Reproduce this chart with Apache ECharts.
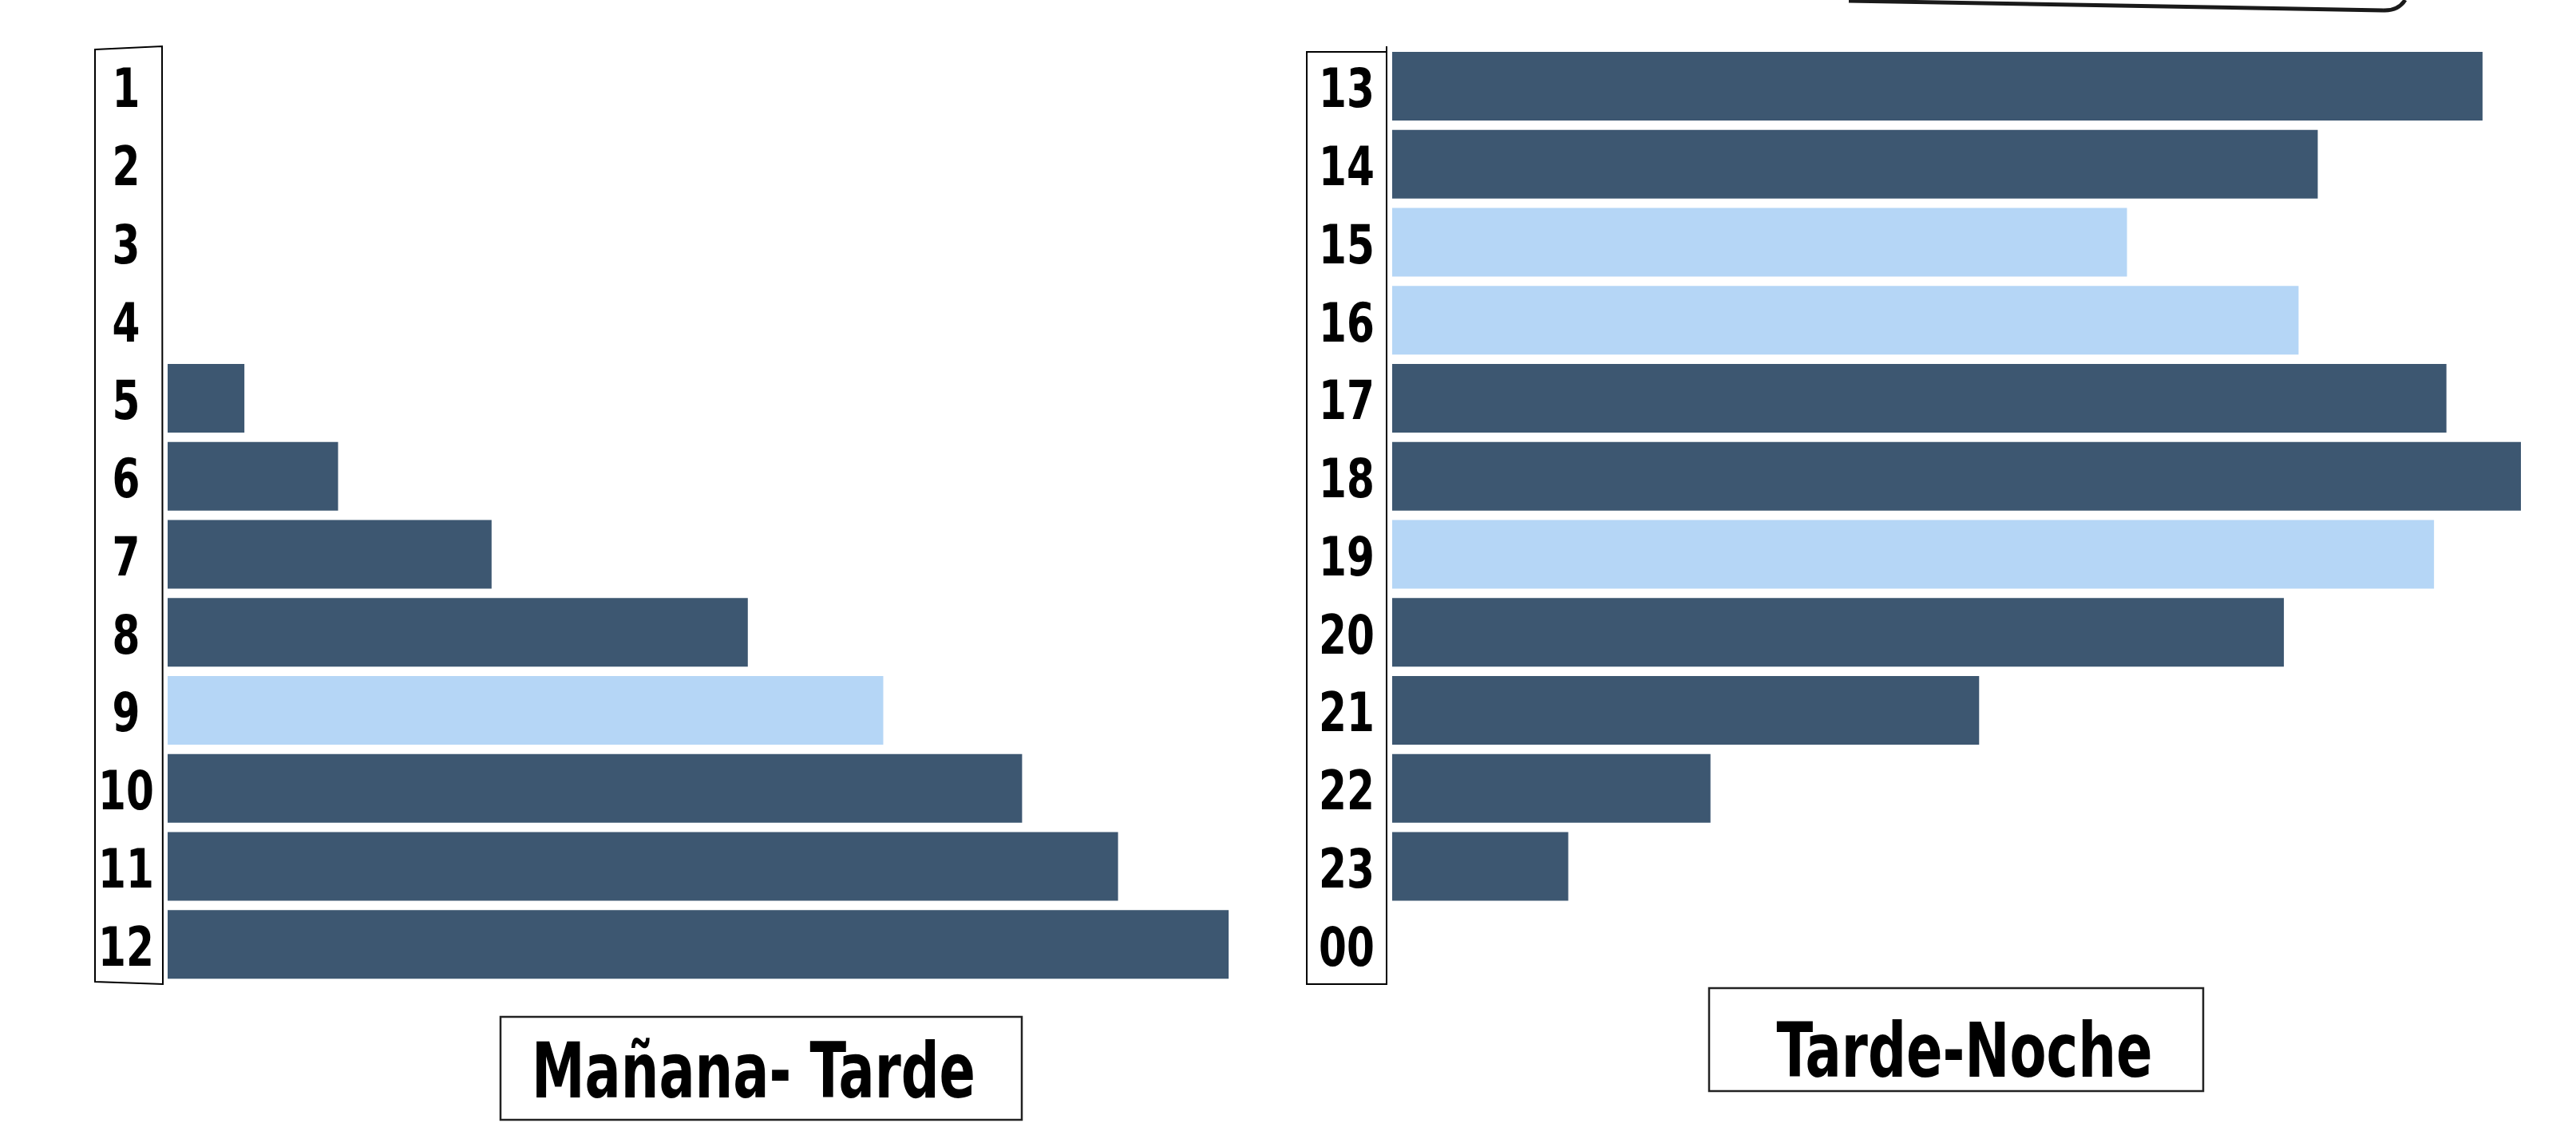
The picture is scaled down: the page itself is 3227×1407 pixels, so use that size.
<!DOCTYPE html>
<html>
<head>
<meta charset="utf-8">
<script src="https://cdn.jsdelivr.net/npm/echarts@6/dist/echarts.min.js"></script>
<style>
  html, body { margin: 0; padding: 0; background: #fff; }
  #chart { width: 3227px; height: 1407px; }
</style>
</head>
<body>
<div id="chart"></div>
<script>
// morning / afternoon hours
const morningHours = ["1", "2", "3", "4", "5", "6", "7", "8", "9", "10", "11", "12"];
const morningValues = [0, 0, 0, 0, 6.8, 15.1, 28.7, 51.4, 63.4, 75.7, 84.2, 94.0];

// afternoon / night hours
const eveningHours = ["13", "14", "15", "16", "17", "18", "19", "20", "21", "22", "23", "00"];
const eveningValues = [96.6, 82.0, 65.1, 80.3, 93.4, 100, 92.3, 79.0, 52.0, 28.2, 15.6, 0];

// hours drawn in the light colour
const highlighted = ["9", "15", "16", "19"];

const DARK = "#3d5771";
const LIGHT = "#b5d6f6";
// no narrow font installed, so condensed text gets squeezed a bit more with scaleX
const FONT = "'DejaVu Sans Condensed', 'Liberation Sans Narrow', sans-serif";

const chart = echarts.init(document.getElementById("chart"), null, { renderer: "svg" });

function toBars(hours, values) {
  return values.map((v, i) => ({
    value: v,
    itemStyle: { color: highlighted.includes(hours[i]) ? LIGHT : DARK },
  }));
}

function hourAxis(idx, hours) {
  return {
    type: "category",
    gridIndex: idx,
    inverse: true,
    data: hours,
    axisLine: { show: false },
    axisTick: { show: false },
    splitLine: { show: false },
    axisLabel: { show: false },
  };
}

function squeezedText(x, y, text, size, sx) {
  return {
    type: "text",
    x: x,
    y: y,
    scaleX: sx,
    silent: true,
    style: {
      text: text,
      fontFamily: FONT,
      fontWeight: "bold",
      fontSize: size,
      fill: "#000",
      align: "center",
      verticalAlign: "middle",
    },
  };
}

const option = {
  backgroundColor: "#fff",
  animation: false,
  grid: [
    { left: 210, top: 59, width: 1414, height: 1173 },
    { left: 1744, top: 59, width: 1414, height: 1173 },
  ],
  xAxis: [
    { type: "value", gridIndex: 0, min: 0, max: 100, show: false },
    { type: "value", gridIndex: 1, min: 0, max: 100, show: false },
  ],
  yAxis: [hourAxis(0, morningHours), hourAxis(1, eveningHours)],
  series: [
    {
      name: "Mañana- Tarde",
      type: "bar",
      xAxisIndex: 0,
      yAxisIndex: 0,
      barWidth: 86,
      data: toBars(morningHours, morningValues),
    },
    {
      name: "Tarde-Noche",
      type: "bar",
      xAxisIndex: 1,
      yAxisIndex: 1,
      barWidth: 86,
      data: toBars(eveningHours, eveningValues),
    },
  ],
  graphic: [
    // frame around the morning hour labels (slightly skewed)
    {
      type: "polygon",
      shape: { points: [[119, 62], [203, 58], [204, 1233], [119, 1230]] },
      style: { fill: "none", stroke: "#000", lineWidth: 2 },
      silent: true,
    },
    // frame around the evening hour labels
    {
      type: "rect",
      shape: { x: 1637, y: 65, width: 100, height: 1168 },
      style: { fill: "none", stroke: "#000", lineWidth: 2 },
      silent: true,
    },
    {
      type: "line",
      shape: { x1: 1737, y1: 58, x2: 1737, y2: 66 },
      style: { stroke: "#000", lineWidth: 2 },
      silent: true,
    },
    // edge of a callout cut off at the top
    {
      type: "polyline",
      shape: { points: [[2316, 1], [2985, 13]] },
      style: { stroke: "#1a1a1a", lineWidth: 5 },
      silent: true,
    },
    {
      type: "bezierCurve",
      shape: { x1: 2985, y1: 13, x2: 3013, y2: 0, cpx1: 3004, cpy1: 14 },
      style: { fill: "none", stroke: "#1a1a1a", lineWidth: 5 },
      silent: true,
    },
    // panel titles
    {
      type: "rect",
      shape: { x: 627, y: 1274, width: 653, height: 129 },
      style: { fill: "#fff", stroke: "#222", lineWidth: 2.5 },
      silent: true,
    },
    squeezedText(944, 1341, "Mañana- Tarde", 96, 0.775),
    {
      type: "rect",
      shape: { x: 2141, y: 1238, width: 619, height: 129 },
      style: { fill: "#fff", stroke: "#222", lineWidth: 2.5 },
      silent: true,
    },
    squeezedText(2461, 1316, "Tarde-Noche", 95, 0.785),
  ],
};

chart.setOption(option);

// hour labels, placed on the category axes' own positions
morningHours.forEach((h, i) => {
  const y = chart.convertToPixel({ yAxisIndex: 0 }, i);
  option.graphic.push(squeezedText(158, y + 3, h, 68, 0.82));
});
eveningHours.forEach((h, i) => {
  const y = chart.convertToPixel({ yAxisIndex: 1 }, i);
  option.graphic.push(squeezedText(1687, y + 3, h, 68, 0.82));
});

chart.setOption(option, true);
</script>
</body>
</html>
